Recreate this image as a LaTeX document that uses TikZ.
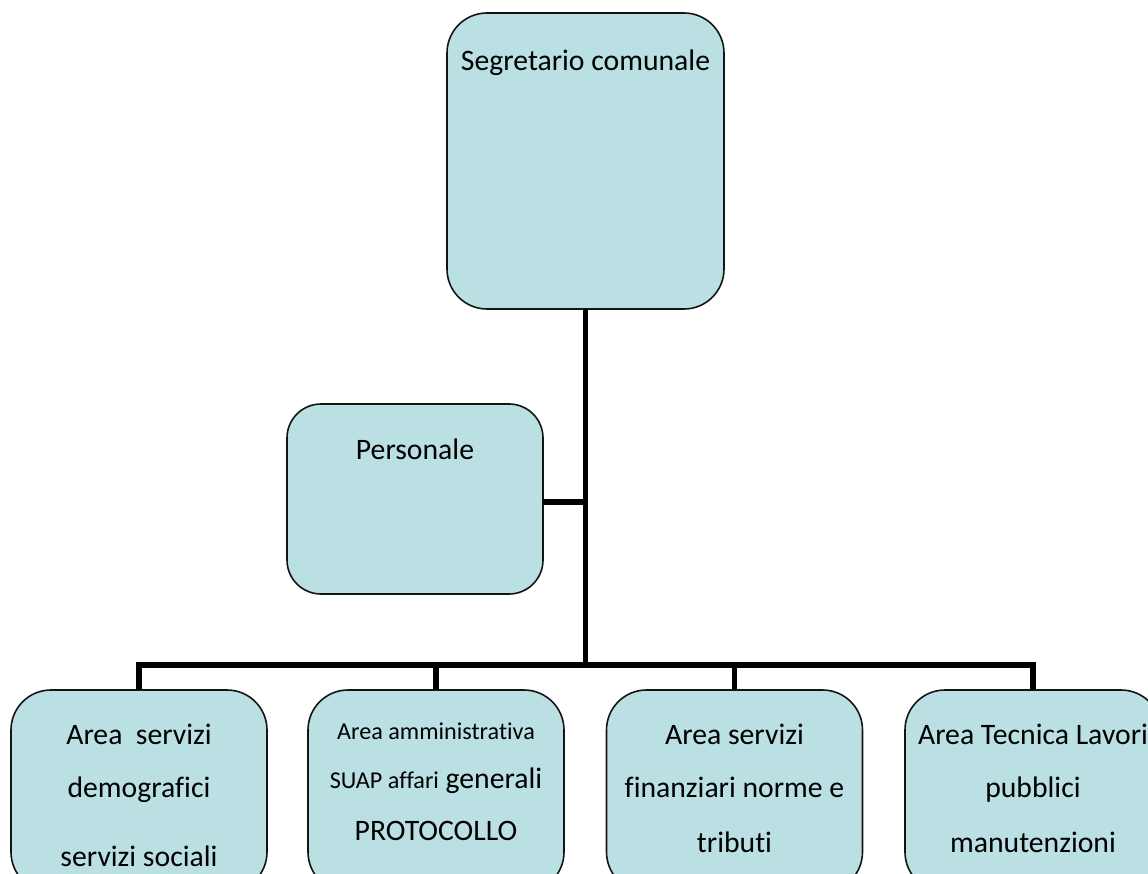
\documentclass[tikz,border=0pt]{standalone}
\usepackage{fontspec}
\setmainfont{Carlito}[Ligatures=NoCommon]
\definecolor{boxfill}{RGB}{186,224,227}
\definecolor{boxline}{RGB}{20,20,20}
\tikzset{
  orgbox/.style={draw=boxline, line width=1.6pt, fill=boxfill, rounded corners=#1, inner sep=0pt, outer sep=0pt},
  orgbox/.default=40pt,
  bigtxt/.style={anchor=base, inner sep=0pt, font=\fontsize{29.7}{35}\selectfont},
  smalltxt/.style={anchor=base, inner sep=0pt, font=\fontsize{24.2}{29}\selectfont},
  bus/.style={draw=black, line width=5.5pt, line join=miter}
}
\begin{document}
\begin{tikzpicture}[x=1pt,y=-1pt]
\useasboundingbox (0,0) rectangle (1148,874);
\clip (0,0) rectangle (1148,874);
% boxes
\node[orgbox, minimum width=277pt, minimum height=296pt] (top) at (585.5,161) {};
\node[orgbox=34pt, minimum width=256pt, minimum height=190pt] (pers) at (415,499) {};
\node[orgbox, minimum width=256pt, minimum height=202pt] (a1) at (139,791) {};
\node[orgbox, minimum width=256pt, minimum height=202pt] (a2) at (436,791) {};
\node[orgbox, minimum width=256pt, minimum height=202pt] (a3) at (734.5,791) {};
\node[orgbox, minimum width=256pt, minimum height=202pt] (a4) at (1033,791) {};
% connectors
\coordinate (bj) at (585.5,665);
\coordinate (pj) at (585.5,502);
\draw[bus] (top.south) -- (bj);
\draw[bus] (pers.east |- pj) -- (pj);
\draw[bus] (a1.north) |- (a4.north |- bj) -- (a4.north);
\draw[bus] (a2.north) -- (a2.north |- bj);
\draw[bus] (a3.north) -- (a3.north |- bj);
% texts
\node[bigtxt] (ttop) at (585.5,71) {Segretario comunale};
\node[bigtxt] (tpers) at (415,459) {Personale};
\node[bigtxt] (t11) at (139,744) {Area~ servizi};
\node[bigtxt] (t12) at (139,797) {demografici};
\node[bigtxt] (t13) at (139,866) {servizi sociali};
\node[smalltxt] (t21) at (436,739) {Area amministrativa};
\node[bigtxt] (t22) at (436,788) {{\fontsize{24.2}{29}\selectfont SUAP affari} generali};
\node[bigtxt] (t23) at (436,840) {PROTOCOLLO};
\node[bigtxt] (t31) at (734.5,744) {Area servizi};
\node[bigtxt] (t32) at (734.5,797) {finanziari norme e};
\node[bigtxt] (t33) at (734.5,852) {tributi};
\node[bigtxt] (t41) at (1033,744) {Area Tecnica Lavori};
\node[bigtxt] (t42) at (1033,797) {pubblici};
\node[bigtxt] (t43) at (1033,852) {manutenzioni};
\end{tikzpicture}
\end{document}
